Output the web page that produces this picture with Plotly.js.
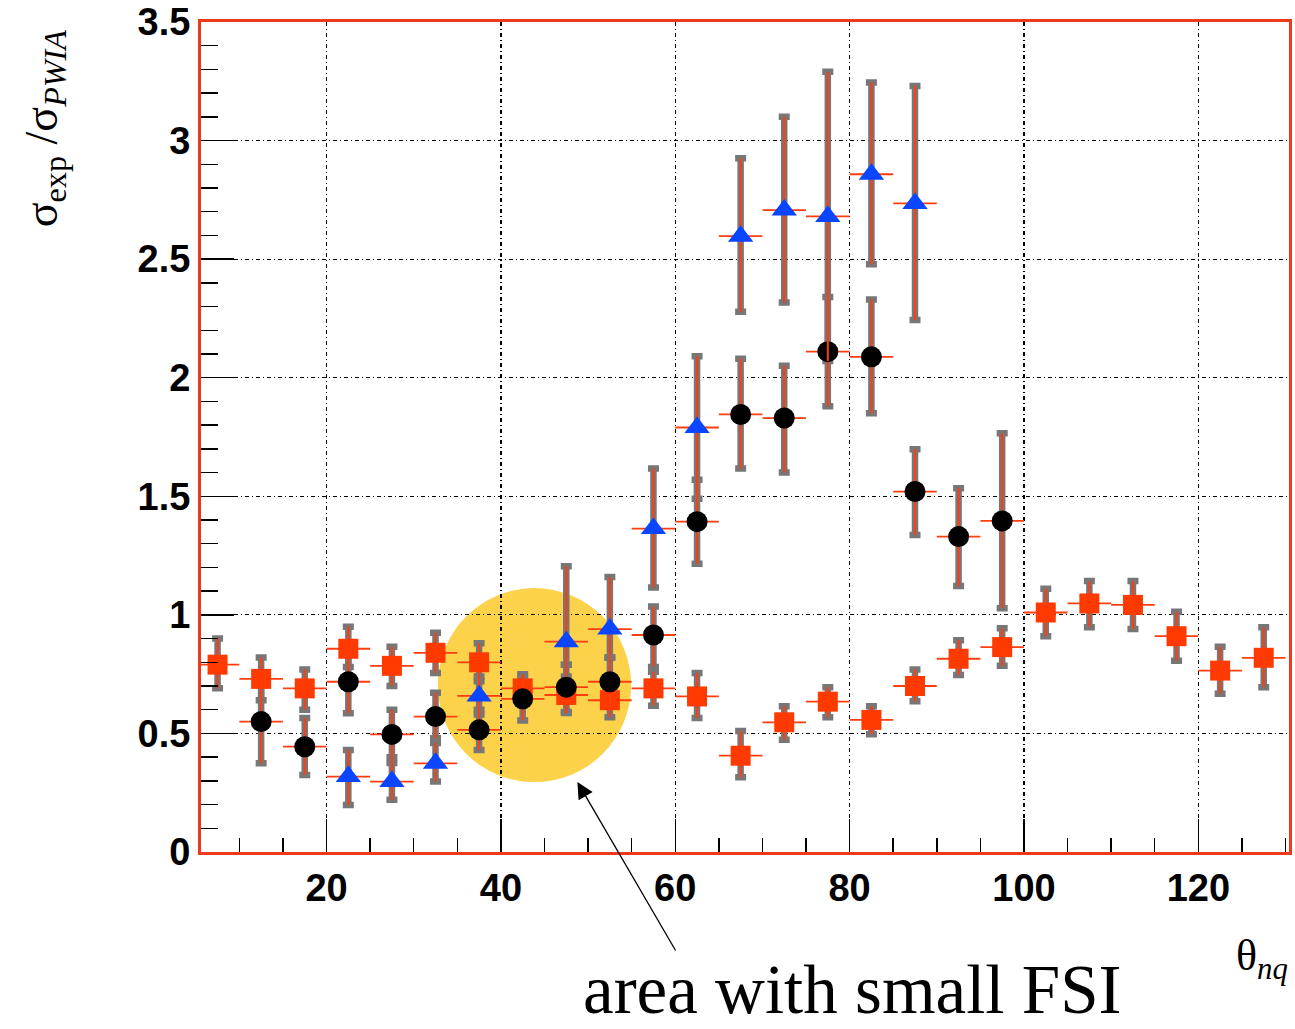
<!DOCTYPE html>
<html>
<head>
<meta charset="utf-8">
<script src="https://cdn.plot.ly/plotly-3.0.1.min.js"></script>
<style>html,body{margin:0;padding:0;background:#fff;}#chart{width:1295px;height:1029px;}</style>
</head>
<body>
<div id="chart"></div>
<script>
// theta_nq bin centres (deg)
const thetaSq  = [7.5,12.5,17.5,22.5,27.5,32.5,37.5,42.5,47.5,52.5,57.5,62.5,67.5,72.5,77.5,82.5,87.5,92.5,97.5,102.5,107.5,112.5,117.5,122.5,127.5];
const ratioSq  = [0.79,0.73,0.69,0.857,0.785,0.84,0.80,0.69,0.662,0.64,0.69,0.656,0.406,0.547,0.634,0.557,0.70,0.815,0.864,1.01,1.048,1.042,0.91,0.765,0.819];
const hiSq     = [0.90,0.82,0.77,0.95,0.865,0.925,0.88,0.75,0.74,0.72,0.76,0.755,0.51,0.615,0.695,0.615,0.77,0.893,0.943,1.11,1.143,1.143,1.013,0.865,0.948];
const loSq     = [0.69,0.64,0.60,0.78,0.70,0.755,0.72,0.62,0.586,0.568,0.617,0.565,0.315,0.473,0.568,0.497,0.636,0.746,0.785,0.91,0.948,0.94,0.807,0.667,0.695];

const thetaCi  = [12.5,17.5,22.5,27.5,32.5,37.5,42.5,47.5,52.5,57.5,62.5,67.5,72.5,77.5,82.5,87.5,92.5,97.5];
const ratioCi  = [0.55,0.444,0.718,0.496,0.571,0.515,0.646,0.695,0.718,0.915,1.393,1.845,1.83,2.11,2.088,1.52,1.33,1.396];
const hiCi     = [0.72,0.565,0.85,0.60,0.672,0.60,0.74,0.79,0.82,1.035,1.57,2.08,2.05,2.34,2.33,1.698,1.534,1.766];
const loCi     = [0.374,0.325,0.585,0.375,0.48,0.43,0.555,0.59,0.62,0.78,1.215,1.617,1.60,1.88,1.85,1.337,1.122,1.028];

const thetaTr  = [22.5,27.5,32.5,37.5,42.5,47.5,52.5,57.5,62.5,67.5,72.5,77.5,82.5,87.5];
const ratioTr  = [0.318,0.297,0.374,0.658,null,0.887,0.94,1.364,1.79,2.597,2.707,2.68,2.858,2.735];
const hiTr     = [0.43,0.40,0.46,0.74,null,1.205,1.16,1.617,2.09,2.925,3.10,3.29,3.245,3.23];
const loTr     = [0.198,0.22,0.297,0.58,null,0.79,0.82,1.115,1.49,2.278,2.317,2.07,2.478,2.243];

const binHalfWidth = 2.5;
const xTickVals = [20,40,60,80,100,120];

function plus(v, hi){ return v.map((y,i)=> y==null?null:hi[i]-y); }
function minus(v, lo){ return v.map((y,i)=> y==null?null:y-lo[i]); }

const GRAY = '#777777', RED = '#ff3d0f';

function grayTrace(x, y, hi, lo){
  return {x:x, y:y, type:'scatter', mode:'markers', hoverinfo:'skip',
    marker:{color:'rgba(0,0,0,0)', size:1},
    error_y:{type:'data', symmetric:false, array:plus(y,hi), arrayminus:minus(y,lo), color:GRAY, thickness:6.5, width:5.5}};
}
function markTrace(x, y, hi, lo, sym, col, size){
  return {x:x, y:y, type:'scatter', mode:'markers', hoverinfo:'skip',
    marker:{symbol:sym, color:col, size:size, line:{width:0}},
    error_y:{type:'data', symmetric:false, array:plus(y,hi), arrayminus:minus(y,lo), color:RED, thickness:2, width:0},
    error_x:{type:'constant', value:binHalfWidth, color:RED, thickness:1.8, width:0}};
}

const data = [
  grayTrace(thetaSq, ratioSq, hiSq, loSq),
  grayTrace(thetaCi, ratioCi, hiCi, loCi),
  grayTrace(thetaTr, ratioTr, hiTr, loTr),
  markTrace(thetaSq, ratioSq, hiSq, loSq, 'square', '#ff3a00', 20),
  markTrace(thetaCi, ratioCi, hiCi, loCi, 'circle', '#000000', 21),
  markTrace(thetaTr, ratioTr, hiTr, loTr, 'triangle-up', '#0a45ff', 22)
];

const tickFont = {family:'Liberation Sans, Arial, sans-serif', size:38, color:'#000', weight:'bold'};
const serif = 'Liberation Serif, Times New Roman, serif';

const layout = {
  width:1295, height:1029,
  margin:{l:201, r:6, t:22, b:177},
  paper_bgcolor:'#fff', plot_bgcolor:'#fff',
  showlegend:false, hovermode:false,
  xaxis:{range:[5.6,130.4], tickvals:xTickVals, ticks:'inside', ticklen:33, tickwidth:1.5, tickcolor:'#000',
    showline:true, linecolor:'#ee3a1c', linewidth:3, mirror:true, zeroline:false,
    showgrid:true, gridcolor:'#000', gridwidth:1.2, griddash:'4px,3px,1px,3px',
    minor:{dtick:5, tick0:0, ticks:'inside', ticklen:14, tickwidth:1.5, tickcolor:'#000', showgrid:false},
    tickfont:tickFont},
  yaxis:{range:[0,3.5], dtick:0.5, tick0:0, ticks:'inside', ticklen:33, tickwidth:1.5, tickcolor:'#000',
    showline:true, linecolor:'#ee3a1c', linewidth:3, mirror:true, zeroline:false,
    showgrid:true, gridcolor:'#000', gridwidth:1.2, griddash:'4px,3px,1px,3px',
    minor:{dtick:0.1, ticks:'inside', ticklen:17, tickwidth:1.5, tickcolor:'#000', showgrid:false},
    tickfont:tickFont},
  shapes:[
    {type:'circle', xref:'x', yref:'y', x0:32.76, x1:54.94, y0:0.295, y1:1.113,
     fillcolor:'#fdd24b', line:{width:0}, layer:'below'}
  ],
  annotations:[
    {xref:'paper', yref:'paper', x:-0.1434, y:0.872, xanchor:'center', yanchor:'middle', textangle:-90,
     showarrow:false, text:'σ<sub>exp</sub> /σ<sub><i>PWIA</i></sub>', font:{family:serif, size:46, color:'#000'}},
    {xref:'paper', yref:'paper', x:0.975, y:-0.128, xanchor:'center', yanchor:'middle',
     showarrow:false, text:'θ<sub><i>nq</i></sub>', font:{family:serif, size:44, color:'#000'}},
    {xref:'paper', yref:'paper', x:(852-201)/1088, y:-0.1665, xanchor:'center', yanchor:'middle',
     showarrow:false, text:'area with small FSI', font:{family:serif, size:69, color:'#000'}},
    {xref:'x', yref:'y', x:48.78, y:0.295, ax:99, ay:170, axref:'pixel', ayref:'pixel', text:'',
     showarrow:true, arrowhead:2, arrowsize:2.5, arrowwidth:1.3, arrowcolor:'#000'}
  ]
};

Plotly.newPlot('chart', data, layout, {staticPlot:true, displayModeBar:false});
</script>
</body>
</html>
